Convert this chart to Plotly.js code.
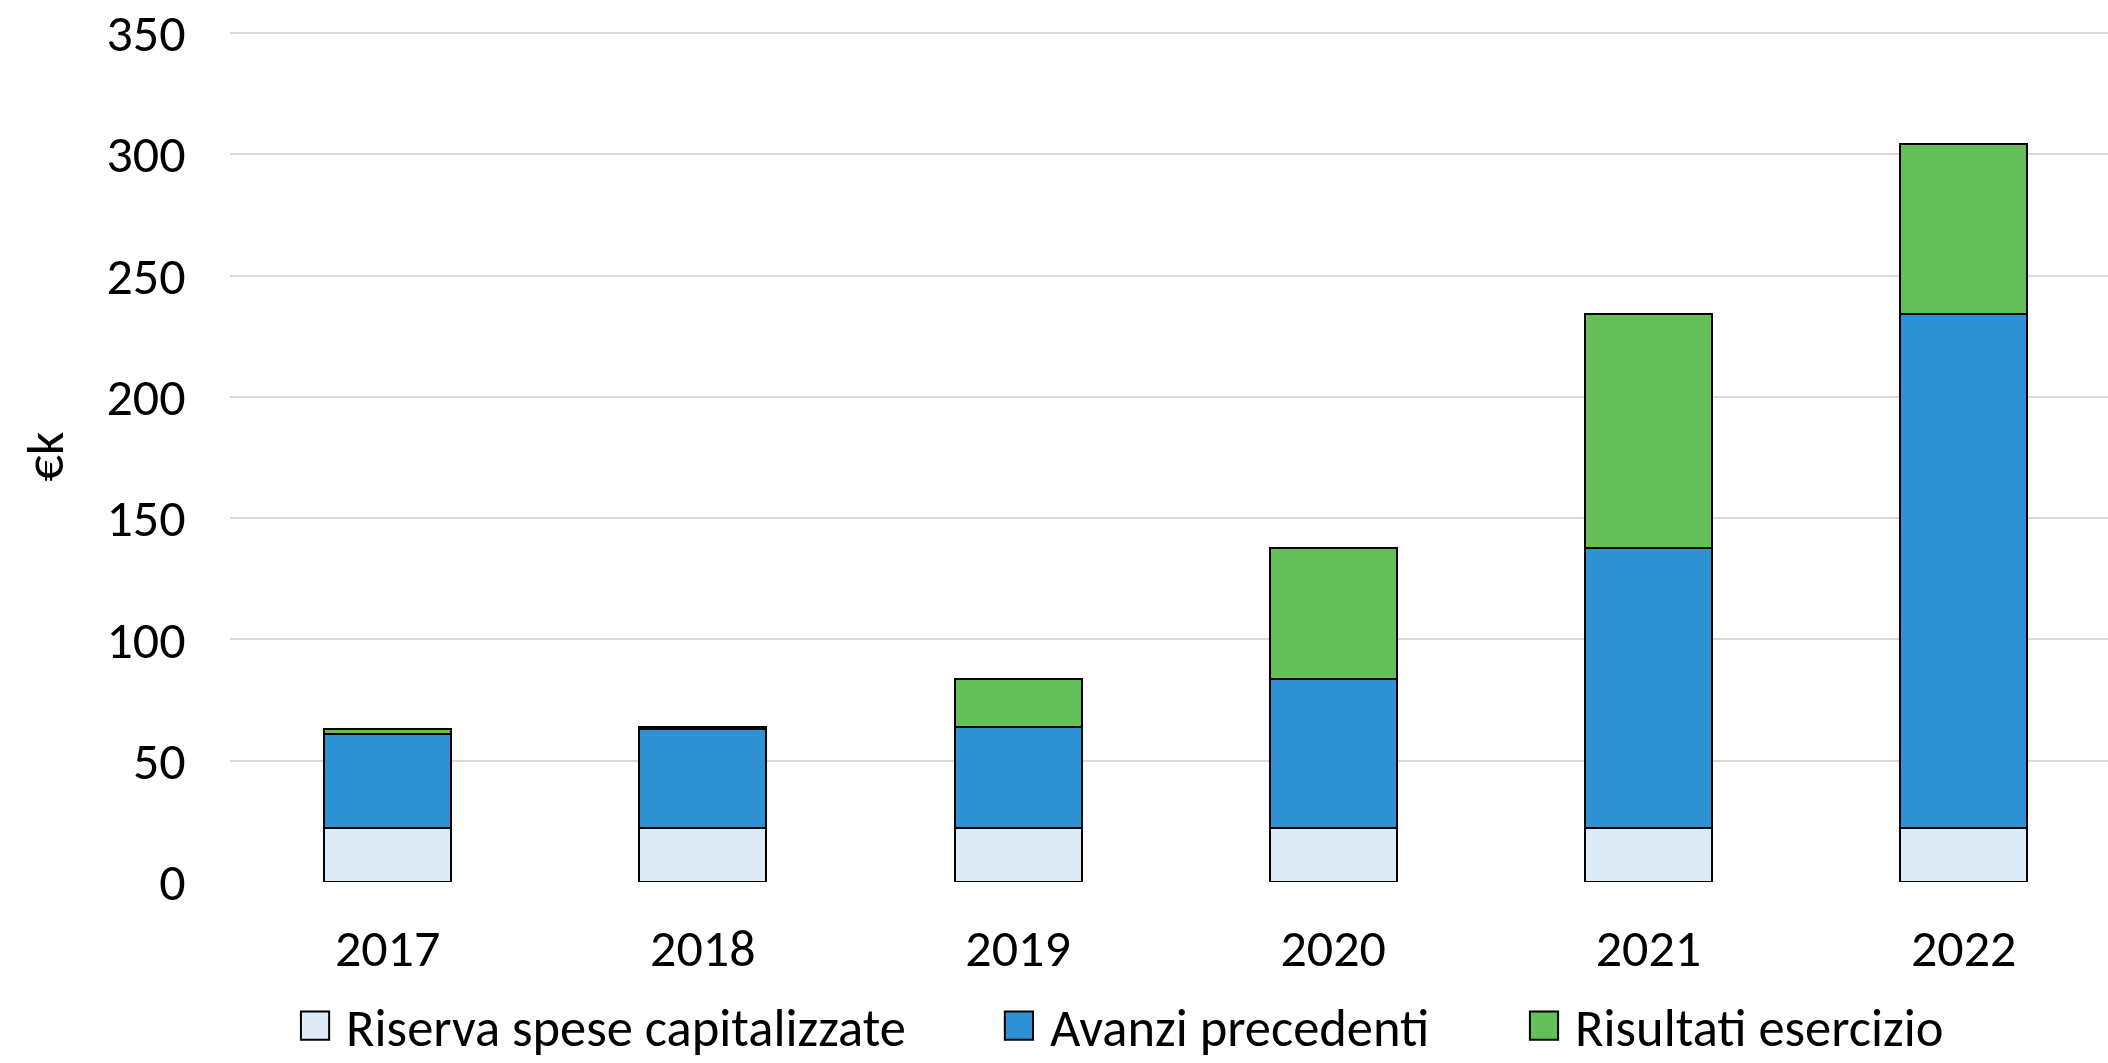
<!DOCTYPE html>
<html>
<head>
<meta charset="utf-8">
<script src="https://cdn.plot.ly/plotly-3.0.1.min.js"></script>
<style>html,body{margin:0;padding:0;background:#fff;}#chart{width:2108px;height:1063px;}</style>
</head>
<body>
<div id="chart"></div>
<script>
const years = ["2017", "2018", "2019", "2020", "2021", "2022"];
const riserva = [22.3, 22.3, 22.3, 22.3, 22.3, 22.3];
const avanzi = [38.7, 40.8, 41.5, 61.5, 115.4, 212.0];
const risultati = [2.0, 0.7, 20.0, 54.0, 96.6, 69.8];
const seriesNames = ["Riserva spese capitalizzate", "Avanzi precedenti", "Risultati esercizio"];
const seriesColors = ["#DDEBF7", "#2E91D4", "#65BF59"];
const yTicks = [0, 50, 100, 150, 200, 250, 300, 350];

const FONT = "Carlito, Calibri, Lato, sans-serif";
const FS = 52;
const LFS = 52.5;
const legendIds = ["legend", "legend2", "legend3"];
const data = [riserva, avanzi, risultati].map((vals, i) => ({
  type: "bar",
  x: years,
  y: vals,
  name: seriesNames[i],
  legend: legendIds[i],
  marker: {color: seriesColors[i], line: {color: "#000000", width: 2}},
  hoverinfo: "x+y+name"
}));

// plot area: left 230px, width 1878px (paper coords)
const legendX = [0.0341, 0.4089, 0.6885];
function mkLegend(x) {
  return {
    orientation: "h",
    x: x,
    xanchor: "left",
    y: -0.121,
    yanchor: "top",
    font: {family: FONT, size: LFS, color: "#000000"},
    bgcolor: "rgba(0,0,0,0)",
    itemwidth: 42
  };
}

const layout = {
  width: 2108,
  height: 1063,
  barmode: "stack",
  bargap: 0.597,
  paper_bgcolor: "#ffffff",
  plot_bgcolor: "#ffffff",
  margin: {l: 230, r: 0, t: 31, b: 181, pad: 0, autoexpand: false},
  font: {family: FONT, size: FS, color: "#000000"},
  xaxis: {
    type: "category",
    range: [-0.5, 5.458],
    showgrid: false,
    zeroline: false,
    showline: false,
    ticks: "outside",
    ticklen: 21,
    tickcolor: "rgba(0,0,0,0)",
    tickfont: {family: FONT, size: FS, color: "#000000"}
  },
  yaxis: {
    range: [0, 350.8],
    tickvals: yTicks,
    ticktext: yTicks.map(String),
    showgrid: true,
    gridcolor: "#D9D9D9",
    gridwidth: 2,
    zeroline: false,
    showline: false,
    ticks: "outside",
    ticklen: 33,
    tickcolor: "rgba(0,0,0,0)",
    tickfont: {family: FONT, size: FS, color: "#000000"},
    title: {text: "€k", font: {family: FONT, size: FS, color: "#000000"}, standoff: 26}
  },
  legend: mkLegend(legendX[0]),
  legend2: mkLegend(legendX[1]),
  legend3: mkLegend(legendX[2]),
  showlegend: true
};

Plotly.newPlot("chart", data, layout, {displayModeBar: false, staticPlot: true}).then(function (gd) {
  // enlarge the legend swatches to match the reference's square keys
  gd.querySelectorAll(".legendpoints path").forEach(function (p) {
    const t = p.getAttribute("transform") || "";
    p.setAttribute("transform", t + " translate(-5,0) scale(2.35)");
    p.style.vectorEffect = "non-scaling-stroke";
    p.style.strokeWidth = "2px";
    p.style.stroke = "#000000";
  });
});
</script>
</body>
</html>
